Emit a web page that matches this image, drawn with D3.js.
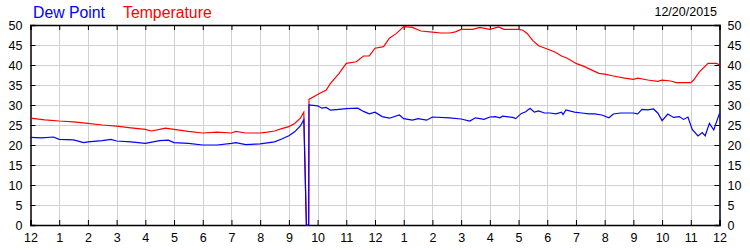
<!DOCTYPE html>
<html>
<head>
<meta charset="utf-8">
<script src="https://cdn.jsdelivr.net/npm/d3@7"></script>
<style>
  html, body { margin: 0; padding: 0; background: #fff; }
  svg { display: block; font-family: "Liberation Sans", Arial, sans-serif; }
  .grid line { stroke: #d0d0d0; stroke-width: 1; }
  .axis path, .axis line { stroke: #000; }
  .axis text { font-size: 12.5px; fill: #000; }
</style>
</head>
<body>
<svg id="chart" width="750" height="250"></svg>
<script>
// hours since midnight, temperature (F)
const tempTime = [0, 0.5, 1, 1.5, 2, 2.5, 3, 3.5, 4, 4.2, 4.5, 4.7, 5, 5.5, 6, 6.5, 7, 7.15, 7.5, 8,
  8.25, 8.5, 8.75, 9, 9.2, 9.4, 9.52, 9.61, 9.69, 9.7, 10, 10.3, 10.45, 10.75, 11, 11.35, 11.6, 11.8,
  12, 12.3, 12.5, 12.75, 13, 13.3, 13.6, 14, 14.3, 14.6, 14.8, 15, 15.4, 15.65, 16, 16.3, 16.5, 17,
  17.15, 17.3, 17.5, 17.7, 18, 18.25, 18.5, 18.7, 19, 19.3, 19.5, 19.8, 20, 20.3, 20.7, 21, 21.15,
  21.5, 21.85, 22, 22.3, 22.5, 23, 23.1, 23.3, 23.6, 23.9, 24];
const tempF = [26.7, 26.3, 26.0, 25.8, 25.4, 25.0, 24.7, 24.3, 23.9, 23.5, 23.9, 24.2, 23.9, 23.4, 23.0, 23.2, 23.0, 23.4, 23.0, 23.0,
  23.2, 23.5, 24.1, 24.6, 25.4, 26.7, 28.2, 0, 0, 31.4, 32.6, 33.75, 35.4, 37.9, 40.4, 40.8, 42.25, 42.3,
  44.2, 44.6, 46.7, 47.9, 49.6, 49.4, 48.5, 48.2, 48.0, 48.0, 48.3, 48.9, 48.9, 49.4, 48.9, 49.5, 48.9, 48.9,
  48.7, 47.9, 46.1, 44.8, 44.0, 43.3, 42.25, 41.7, 40.4, 39.6, 38.9, 37.9, 37.7, 37.25, 36.7, 36.4, 36.7,
  36.25, 35.9, 36.2, 36.0, 35.6, 35.6, 36.25, 38.3, 40.4, 40.4, 40.0];

// hours since midnight, dew point (F)
const dewTime = [0, 0.4, 0.8, 1, 1.5, 1.85, 2, 2.5, 2.8, 3, 3.5, 4, 4.5, 4.8, 5, 5.5, 6, 6.5, 7, 7.15,
  7.5, 8, 8.5, 8.75, 9, 9.2, 9.4, 9.52, 9.61, 9.69, 9.7, 10, 10.15, 10.3, 10.45, 10.75, 11, 11.4, 11.6,
  11.8, 12, 12.25, 12.5, 12.85, 13, 13.3, 13.5, 13.8, 14, 14.6, 15, 15.3, 15.5, 15.8, 16, 16.2, 16.35,
  16.45, 16.8, 16.9, 17.1, 17.25, 17.4, 17.55, 17.7, 17.9, 18.1, 18.3, 18.5, 18.55, 18.65, 18.95, 19.2,
  19.45, 19.65, 19.9, 20.15, 20.3, 20.55, 21, 21.15, 21.3, 21.5, 21.7, 21.85, 22, 22.2, 22.4, 22.6,
  22.75, 22.9, 23.05, 23.25, 23.4, 23.5, 23.65, 23.8, 24];
const dewF = [21.9, 21.8, 22.0, 21.4, 21.3, 20.6, 20.8, 21.1, 21.4, 21.0, 20.8, 20.4, 21.1, 21.2, 20.6, 20.4, 20.0, 20.0, 20.4, 20.6,
  20.1, 20.3, 20.8, 21.5, 22.3, 23.3, 24.75, 26.3, 0, 0, 30.0, 29.8, 29.2, 29.4, 28.7, 28.9, 29.1, 29.2, 28.4,
  27.8, 28.2, 27.1, 26.7, 27.5, 26.6, 26.2, 26.6, 26.2, 27.0, 26.8, 26.5, 26.0, 26.8, 26.4, 27.0, 27.1, 26.8,
  27.2, 26.9, 26.6, 27.9, 28.3, 29.2, 28.2, 28.5, 28.0, 28.0, 27.8, 28.2, 27.6, 28.75, 28.2, 28.0,
  27.8, 27.8, 27.5, 26.8, 27.75, 28.0, 28.0, 27.8, 28.9, 28.8, 29.0, 28.0, 26.1, 27.75, 26.9, 27.1,
  26.4, 27.0, 23.9, 22.25, 23.1, 22.3, 25.4, 23.75, 27.9];

const hourTicks = d3.range(0, 25);
const valueTicks = d3.range(0, 55, 5);
const seriesNames = ['Dew Point', 'Temperature'];
const dateLabel = '12/20/2015';

const svg = d3.select('#chart');
const plotL = 30.5, plotR = 719.5, plotT = 25, plotB = 225;

const x = d3.scaleLinear().domain([0, 24]).range([plotL, plotR]);
const y = d3.scaleLinear().domain([0, 50]).range([plotB, plotT]);

// grid
const grid = svg.append('g').attr('class', 'grid');
grid.selectAll('line.v')
  .data(hourTicks.slice(1, -1))
  .join('line')
    .attr('x1', d => Math.round(x(d)) + 0.5).attr('x2', d => Math.round(x(d)) + 0.5)
    .attr('y1', plotT).attr('y2', plotB);
grid.selectAll('line.h')
  .data(valueTicks.slice(1, -1))
  .join('line')
    .attr('x1', plotL).attr('x2', plotR)
    .attr('y1', d => y(d) + 0.5).attr('y2', d => y(d) + 0.5);

const hourLabel = d => (d % 12 === 0 ? 12 : d % 12);

// axes (ticks point inward)
svg.append('g').attr('class', 'axis')
  .attr('transform', `translate(0,${plotB})`)
  .call(d3.axisBottom(x).tickValues(hourTicks).tickSize(-5).tickPadding(8).tickFormat(hourLabel))
  .call(g => g.select('.domain').attr('stroke-width', 1.5));
svg.append('g').attr('class', 'axis')
  .attr('transform', `translate(0,${plotT})`)
  .call(d3.axisTop(x).tickValues(hourTicks).tickSize(-5).tickFormat(''))
  .call(g => g.select('.domain').attr('stroke-width', 1.5));
svg.append('g').attr('class', 'axis')
  .attr('transform', `translate(${plotL},0)`)
  .call(d3.axisLeft(y).tickValues(valueTicks).tickSize(-5).tickPadding(8))
  .call(g => g.select('.domain').attr('stroke-width', 1.5));
svg.append('g').attr('class', 'axis')
  .attr('transform', `translate(${plotR},0)`)
  .call(d3.axisRight(y).tickValues(valueTicks).tickSize(-5).tickPadding(8))
  .call(g => g.select('.domain').attr('stroke-width', 1.5));

// lines
const line = d3.line().x(d => x(d[0])).y(d => y(d[1]));
svg.append('path')
  .datum(d3.zip(tempTime, tempF))
  .attr('fill', 'none').attr('stroke', '#ff0000').attr('stroke-width', 1.2)
  .attr('d', line);
svg.append('path')
  .datum(d3.zip(dewTime, dewF))
  .attr('fill', 'none').attr('stroke', '#0000ff').attr('stroke-width', 1.2)
  .attr('d', line);

// legend + date
svg.append('text').attr('x', 33).attr('y', 18)
  .attr('font-size', 15.8).attr('fill', '#0000ff').text(seriesNames[0]);
svg.append('text').attr('x', 123).attr('y', 18)
  .attr('font-size', 15.8).attr('fill', '#ff0000').text(seriesNames[1]);
svg.append('text').attr('x', 717).attr('y', 16).attr('text-anchor', 'end')
  .attr('font-size', 12.5).attr('fill', '#000').text(dateLabel);
</script>
</body>
</html>
